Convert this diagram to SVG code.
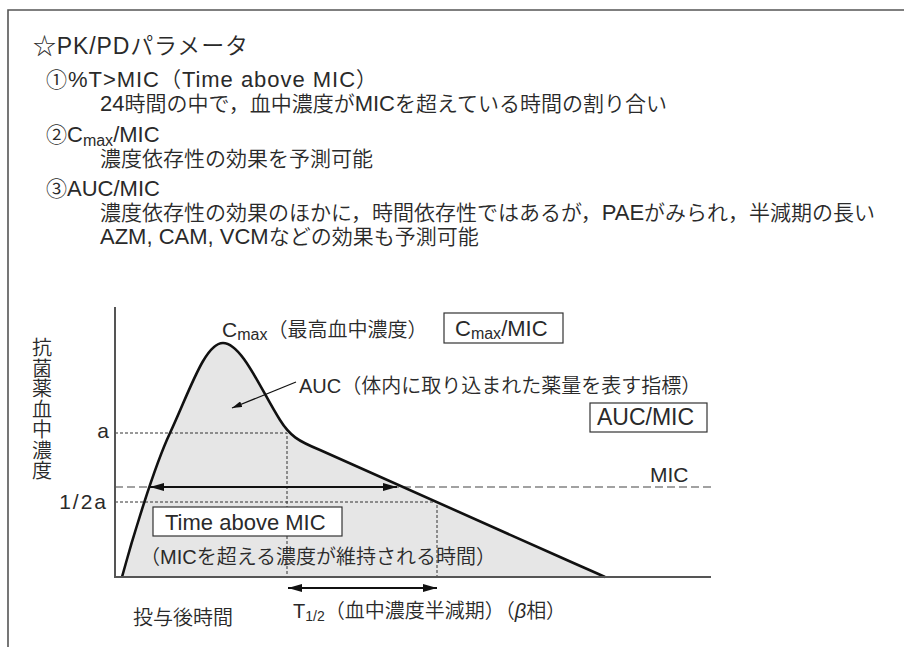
<svg xmlns="http://www.w3.org/2000/svg" width="904" height="647" viewBox="0 0 904 647">
<defs>
<style>
text { font-family: "Liberation Sans", "Noto Sans CJK JP", sans-serif; fill: #2a2a2a; font-weight: 350; }
.h { font-size: 23px; }
.b { font-size: 21px; }
.l { font-size: 20px; }
.lt { font-size: 22px; font-weight: 400; }
.frame { stroke: #555; stroke-width: 1.6; fill: none; }
.guide { stroke: #333; stroke-width: 1; stroke-dasharray: 3 2; fill: none; }
.mic { stroke: #444; stroke-width: 1.2; stroke-dasharray: 8 4; fill: none; }
.axis { stroke: #555; stroke-width: 2; fill: none; }
.curve { stroke: #111; stroke-width: 2.6; fill: none; stroke-linejoin: round; }
.area { fill: #e6e6e6; stroke: none; }
.box { fill: #fff; stroke: #333; stroke-width: 1.2; }
.arr { stroke: #111; stroke-width: 2; fill: none; }
.lead { stroke: #111; stroke-width: 1.2; fill: none; }
</style>
<marker id="ah" markerUnits="userSpaceOnUse" markerWidth="14" markerHeight="8" refX="14" refY="4" orient="auto-start-reverse" viewBox="0 0 14 8"><path d="M0,0 L14,4 L0,8 Z" fill="#111"/></marker>
<marker id="ahs" markerUnits="userSpaceOnUse" markerWidth="10" markerHeight="6" refX="10" refY="3" orient="auto" viewBox="0 0 10 6"><path d="M0,0 L10,3 L0,6 Z" fill="#111"/></marker>
</defs>

<path class="frame" d="M904,10 H8 V647"/>

<g id="header">
<text class="h" x="33" y="54" textLength="215" lengthAdjust="spacing">☆PK/PDパラメータ</text>
<text class="b" x="46" y="87" textLength="331" lengthAdjust="spacing">①<tspan class="lt">%T&gt;MIC</tspan>（<tspan class="lt">Time above MIC</tspan>）</text>
<text class="b" x="100" y="111"><tspan class="lt">24</tspan>時間の中で，血中濃度が<tspan class="lt">MIC</tspan>を超えている時間の割り合い</text>
<text class="b" x="46" y="142">②<tspan class="lt">C</tspan><tspan font-size="16" font-weight="400" dy="4">max</tspan><tspan class="lt" dy="-4">/MIC</tspan></text>
<text class="b" x="100" y="166">濃度依存性の効果を予測可能</text>
<text class="b" x="46" y="196">③<tspan class="lt">AUC/MIC</tspan></text>
<text class="b" x="100" y="220">濃度依存性の効果のほかに，時間依存性ではあるが，<tspan class="lt">PAE</tspan>がみられ，半減期の長い</text>
<text class="b" x="100" y="244"><tspan class="lt">AZM, CAM, VCM</tspan>などの効果も予測可能</text>
</g>

<g id="auc-area">
<path class="area" d="M122,577 C132,540 154,467 170,433 C190,390 205,343 223,343 C242,343 262,392 280,420 C290,436 298,441 320,450 L560,557 C580,566 592,571 605,577 Z"/>
</g>

<g id="guides">
<path class="guide" d="M115,433 H287 V577"/>
<path class="guide" d="M115,502 H437 V577"/>
<path class="mic" d="M115,487 H711"/>
</g>

<g id="curve">
<path class="curve" d="M122,577 C132,540 154,467 170,433 C190,390 205,343 223,343 C242,343 262,392 280,420 C290,436 298,441 320,450 L560,557 C580,566 592,571 605,577"/>
</g>

<g id="axes">
<path class="axis" d="M115,307 V577 H711"/>
</g>

<g id="y-label">
<text class="l" x="42" y="355" text-anchor="middle">抗<tspan x="42" dy="20.5">菌</tspan><tspan x="42" dy="20.5">薬</tspan><tspan x="42" dy="20.5">血</tspan><tspan x="42" dy="20.5">中</tspan><tspan x="42" dy="20.5">濃</tspan><tspan x="42" dy="20.5">度</tspan></text>
</g>

<g id="tick-labels">
<text class="b" x="109" y="438" text-anchor="end" font-weight="400">a</text>
<text class="b" x="108" y="509" text-anchor="end" letter-spacing="2" font-weight="400">1/2a</text>
<text class="b" x="650" y="482" font-weight="400">MIC</text>
</g>

<g id="cmax-label">
<text class="b" x="222" y="337"><tspan font-weight="400">C</tspan><tspan font-size="16" font-weight="400" dy="3">max</tspan><tspan font-size="20" dy="-3">（最高血中濃度）</tspan></text>
</g>

<g id="cmax-mic-box">
<rect class="box" x="444" y="313" width="119" height="30"/>
<text x="455" y="336" font-size="22" font-weight="400">C<tspan font-size="16" dy="3">max</tspan><tspan dy="-3">/MIC</tspan></text>
</g>

<g id="auc-label">
<text class="l" x="299" y="393"><tspan font-weight="400">AUC</tspan>（体内に取り込まれた薬量を表す指標）</text>
</g>

<g id="auc-mic-box">
<rect class="box" x="590" y="403" width="117" height="29"/>
<text x="597" y="425" font-size="23" font-weight="400">AUC/MIC</text>
</g>

<g id="time-above-box">
<rect class="box" x="153" y="507" width="189" height="29"/>
<text x="165" y="530" font-size="22" font-weight="400">Time above MIC</text>
</g>

<g id="time-above-note">
<text class="l" x="140" y="564">（<tspan font-weight="400">MIC</tspan>を超える濃度が維持される時間）</text>
</g>

<g id="x-label">
<text class="l" x="133" y="625">投与後時間</text>
</g>

<g id="half-life-label">
<text class="l" x="293" y="618"><tspan font-weight="400">T</tspan><tspan font-size="14" font-weight="400" dy="3">1/2</tspan><tspan dy="-3">（血中濃度半減期）（</tspan><tspan font-style="italic" font-weight="400">β</tspan>相）</text>
</g>

<g id="connectors">
<path class="arr" d="M150,487 H397" marker-start="url(#ah)" marker-end="url(#ah)"/>
<path class="arr" d="M288,588 H437" marker-start="url(#ah)" marker-end="url(#ah)"/>
<path class="lead" d="M296,382 L232,408" marker-end="url(#ahs)"/>
</g>
</svg>
